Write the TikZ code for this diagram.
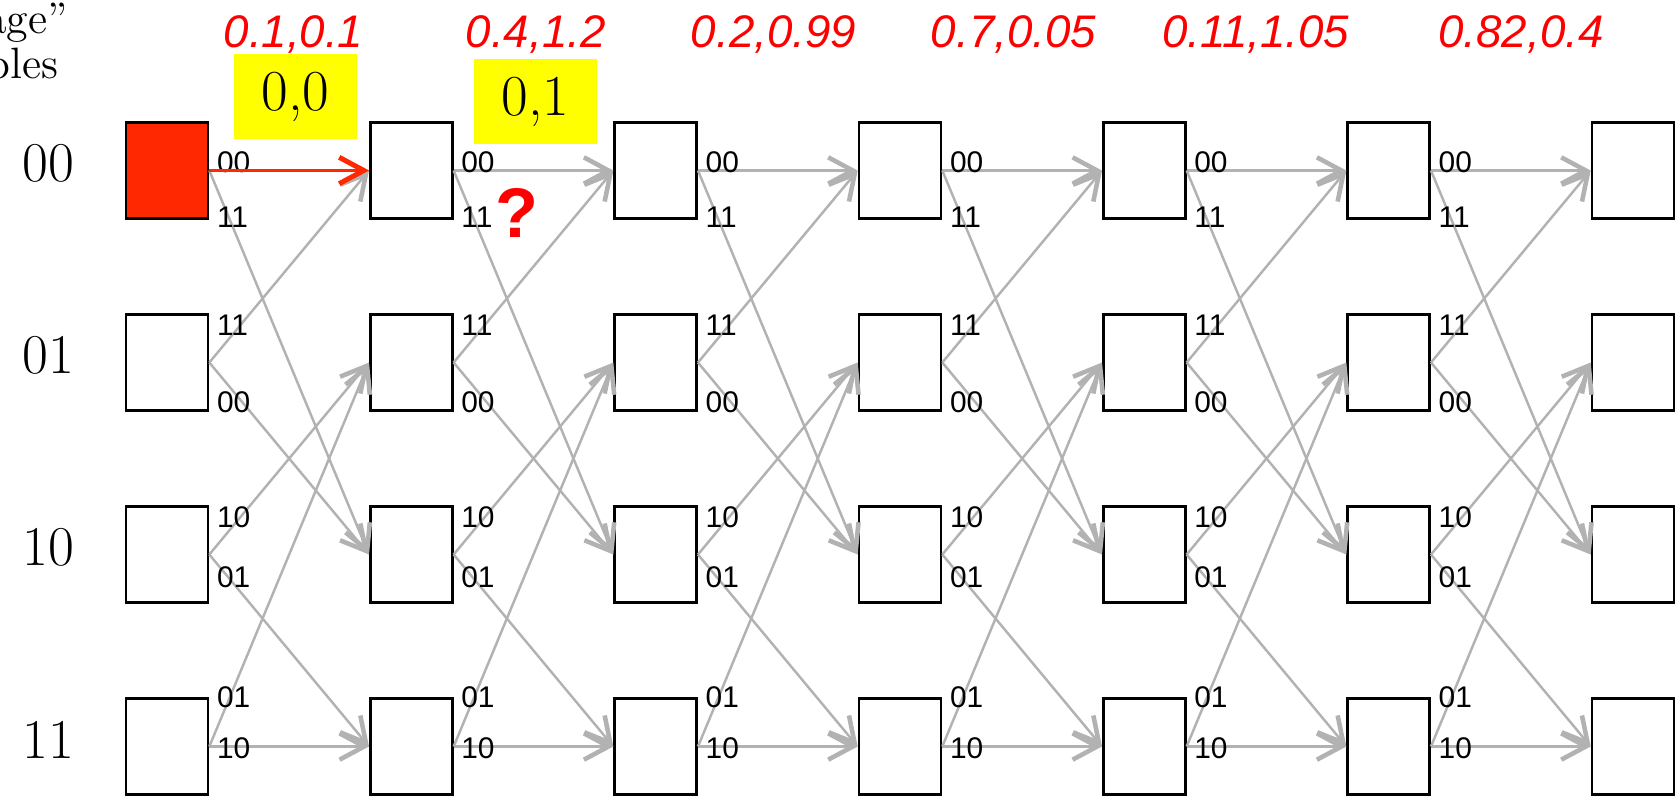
\documentclass[tikz,border=0pt]{standalone}
\usepackage{fontspec}
\newfontfamily\helv{Liberation Sans}
\usetikzlibrary{arrows.meta}
\definecolor{boxred}{RGB}{255,40,0}
\definecolor{edgegray}{RGB}{178,178,178}
\definecolor{hiyellow}{RGB}{255,255,0}

\begin{document}
\begin{tikzpicture}[
  state/.style={draw,line width=0.75pt,fill=white,inner sep=0pt,minimum width=0.82cm,minimum height=0.955cm},
  edge/.style={draw=edgegray,line width=0.7pt,-{Straight Barb[length=7pt,width=7.5pt,line width=1.3pt]}},
  outlab/.style={anchor=west,inner sep=0pt,font=\helv\fontsize{8.5}{10}\selectfont},
  sample/.style={text=red,font=\helv\itshape\fontsize{13}{15}\selectfont},
  bit/.style={fill=hiyellow,inner sep=0pt,minimum width=1.23cm,minimum height=0.85cm,font=\fontsize{16.5}{18}\selectfont},
  rowname/.style={font=\fontsize{16}{18}\selectfont}]
\useasboundingbox (0,0) rectangle (16.8,-7.96);

% trellis states, one column per step
\foreach \c in {0,...,6}
  \foreach \r in {0,...,3}
    \node[state] (\c-\r) at ({1.67+2.4433*\c},{-1.705-1.92*\r}) {};
\node[state,fill=boxred] at (0-0) {};

% branches and their output bits
\foreach \c in {0,...,5} {
  \pgfmathtruncatemacro{\n}{\c+1}
  \draw[edge] (\c-0.east) -- (\n-0.west);
  \draw[edge] (\c-0.east) -- (\n-2.west);
  \draw[edge] (\c-1.east) -- (\n-0.west);
  \draw[edge] (\c-1.east) -- (\n-2.west);
  \draw[edge] (\c-2.east) -- (\n-1.west);
  \draw[edge] (\c-2.east) -- (\n-3.west);
  \draw[edge] (\c-3.east) -- (\n-1.west);
  \draw[edge] (\c-3.east) -- (\n-3.west);
  \foreach \r/\up/\uy/\dn/\dy in {0/00/0.085/11/-0.47, 1/11/0.37/00/-0.395, 2/10/0.37/01/-0.225, 3/01/0.49/10/-0.015} {
    \node[outlab,xshift=0.07cm,yshift=\uy cm] (u\c-\r) at (\c-\r.east) {\up};
    \node[outlab,xshift=0.07cm,yshift=\dy cm] (d\c-\r) at (\c-\r.east) {\dn};
  }
}
\draw[draw=boxred,line width=0.9pt,-{Straight Barb[length=7pt,width=7.5pt,line width=1.4pt]}] (0-0.east) -- (1-0.west);

% state names
\foreach \r/\s in {0/00,1/01,2/10,3/11}
  \node[rowname] (name\r) at (0.485,{-1.635-1.92*\r}) {\s};
\node[anchor=base east,font=\fontsize{12.5}{14}\selectfont] (head1) at (0.80,-0.33) {age”};
\node[anchor=base east,font=\fontsize{12.5}{14}\selectfont] (head2) at (0.71,-0.78) {ples};

% received samples
\foreach \x/\v in {2.935/{0.1,0.1}, 5.357/{0.4,1.2}, 7.735/{0.2,0.99}, 10.135/{0.7,0.05}, 12.556/{0.11,1.05}, 15.21/{0.82,0.4}}
  \node[sample] at (\x,-0.34) {\v};

% hard decisions
\node[bit] (hd0) at (2.955,-0.965) {0,0};
\node[bit] (hd1) at (5.355,-1.015) {0,1};
\node[text=red,font=\helv\bfseries\fontsize{20}{22}\selectfont] (qm) at (5.17,-2.13) {?};
\end{tikzpicture}
\end{document}
